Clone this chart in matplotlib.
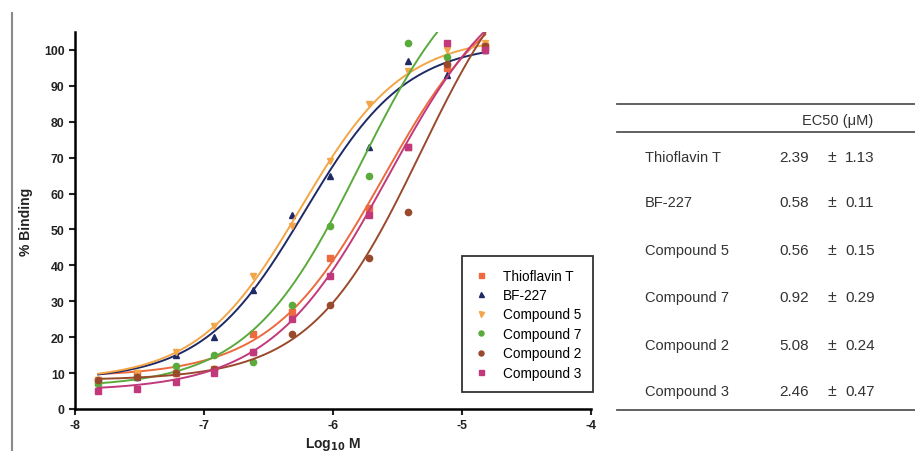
import numpy as np
import matplotlib
matplotlib.use("Agg")
import matplotlib.pyplot as plt
from matplotlib.lines import Line2D

plt.rcParams['font.family'] = ['Liberation Sans', 'DejaVu Sans']
plt.rcParams['axes.unicode_minus'] = False

# log10 of concentration (M)
log_conc = [-7.82, -7.52, -7.22, -6.92, -6.62, -6.32, -6.02, -5.72, -5.42, -5.12, -4.82]

names = ["Thioflavin T", "BF-227", "Compound 5", "Compound 7", "Compound 2", "Compound 3"]

thioflavin = [8, 10, 10, 11, 21, 27, 42, 56, 73, 95, 101]
bf227 = [8, 9, 15, 20, 33, 54, 65, 73, 97, 93, 100]
cpd5 = [8, 10, 16, 23, 37, 51, 69, 85, 94, 100, 102]
cpd7 = [7, 9, 12, 15, 13, 29, 51, 65, 102, 98, 100]
cpd2 = [8, 9, 10, 11, 16, 21, 29, 42, 55, 96, 101]
cpd3 = [5, 5.5, 7.5, 10, 16, 25, 37, 54, 73, 102, 100]

# sigmoid fit parameters: bottom, top, logEC50, hill
fit_params = [
    (9, 120, -5.61, 0.99),
    (8, 102, -6.22, 1.10),
    (8, 104, -6.25, 1.09),
    (6, 130, -5.79, 1.00),
    (8, 135, -5.32, 1.01),
    (5, 125, -5.57, 0.945),
]

ec50 = ["2.39", "0.58", "0.56", "0.92", "5.08", "2.46"]
ec50_err = ["1.13", "0.11", "0.15", "0.29", "0.24", "0.47"]

colors = ["#ec6a3e", "#1e2a66", "#f3a547", "#5aaa3c", "#9a4a2c", "#c2397b"]
markers = ["s", "^", "v", "o", "o", "s"]


def sigmoid(x, bottom, top, logec50, hill):
    return bottom + (top - bottom) / (1 + 10 ** ((logec50 - x) * hill))


fig = plt.figure(figsize=(9.15, 4.52), dpi=100)
ax = fig.add_axes([0.082, 0.093, 0.564, 0.834])

series = [thioflavin, bf227, cpd5, cpd7, cpd2, cpd3]
xs = np.linspace(log_conc[0], log_conc[-1], 300)
for name, ys, p, c, m in zip(names, series, fit_params, colors, markers):
    ax.plot(xs, sigmoid(xs, *p), color=c, lw=1.4)
    ax.plot(log_conc, ys, linestyle="none", marker=m, color=c, markersize=4.5, label=name)

ax.set_xlim(-8, -4)
ax.set_ylim(0, 105)
ax.set_xticks([-8, -7, -6, -5, -4])
ax.set_yticks(range(0, 101, 10))
for s in ["top", "right"]:
    ax.spines[s].set_visible(False)
for s in ["left", "bottom"]:
    ax.spines[s].set_linewidth(1.8)
ax.tick_params(width=1.5, length=4, labelsize=8.8, colors="#222222")
for lab in ax.get_xticklabels() + ax.get_yticklabels():
    lab.set_fontweight("bold")
ax.set_ylabel("% Binding", fontsize=10, fontweight="bold", color="#222222")
ax.yaxis.set_label_coords(-0.081, 0.5)
ax.set_xlabel("Log$_{\\mathbf{10}}$ M", fontsize=10, fontweight="bold", color="#222222")
ax.xaxis.set_label_coords(0.5, -0.068)

leg = ax.legend(loc="lower right", bbox_to_anchor=(1.004, 0.045), fontsize=9.8,
                frameon=True, fancybox=False, edgecolor="black", handlelength=1.0,
                handletextpad=1.1, markerscale=0.8, borderpad=0.9, labelspacing=0.4,
                borderaxespad=0)
leg.get_frame().set_linewidth(1.3)

# gray border line from scanned figure
fig.add_artist(Line2D([12 / 915, 12 / 915], [0, 1 - 14 / 452], color="#8a8a8a", lw=1.5))


# EC50 table
def fy(py):
    return 1 - py / 452


for py in [105, 133, 411]:
    fig.add_artist(Line2D([617 / 915, 1], [fy(py), fy(py)], color="#555555", lw=1.3))
fig.text(838 / 915, fy(121), "EC50 (\u03bcM)", ha="center", va="center", fontsize=10.5, color="#333333")
row_y = [158, 203, 251, 298, 346, 392]
for name, v, e, py in zip(names, ec50, ec50_err, row_y):
    fig.text(645 / 915, fy(py), name, ha="left", va="center", fontsize=10.5, color="#333333")
    fig.text(809 / 915, fy(py), v, ha="right", va="center", fontsize=11, color="#333333")
    fig.text(832 / 915, fy(py), "\u00b1", ha="center", va="center", fontsize=11.5, color="#333333")
    fig.text(845 / 915, fy(py), e, ha="left", va="center", fontsize=11, color="#333333")

fig.savefig("out.png", dpi=100)
